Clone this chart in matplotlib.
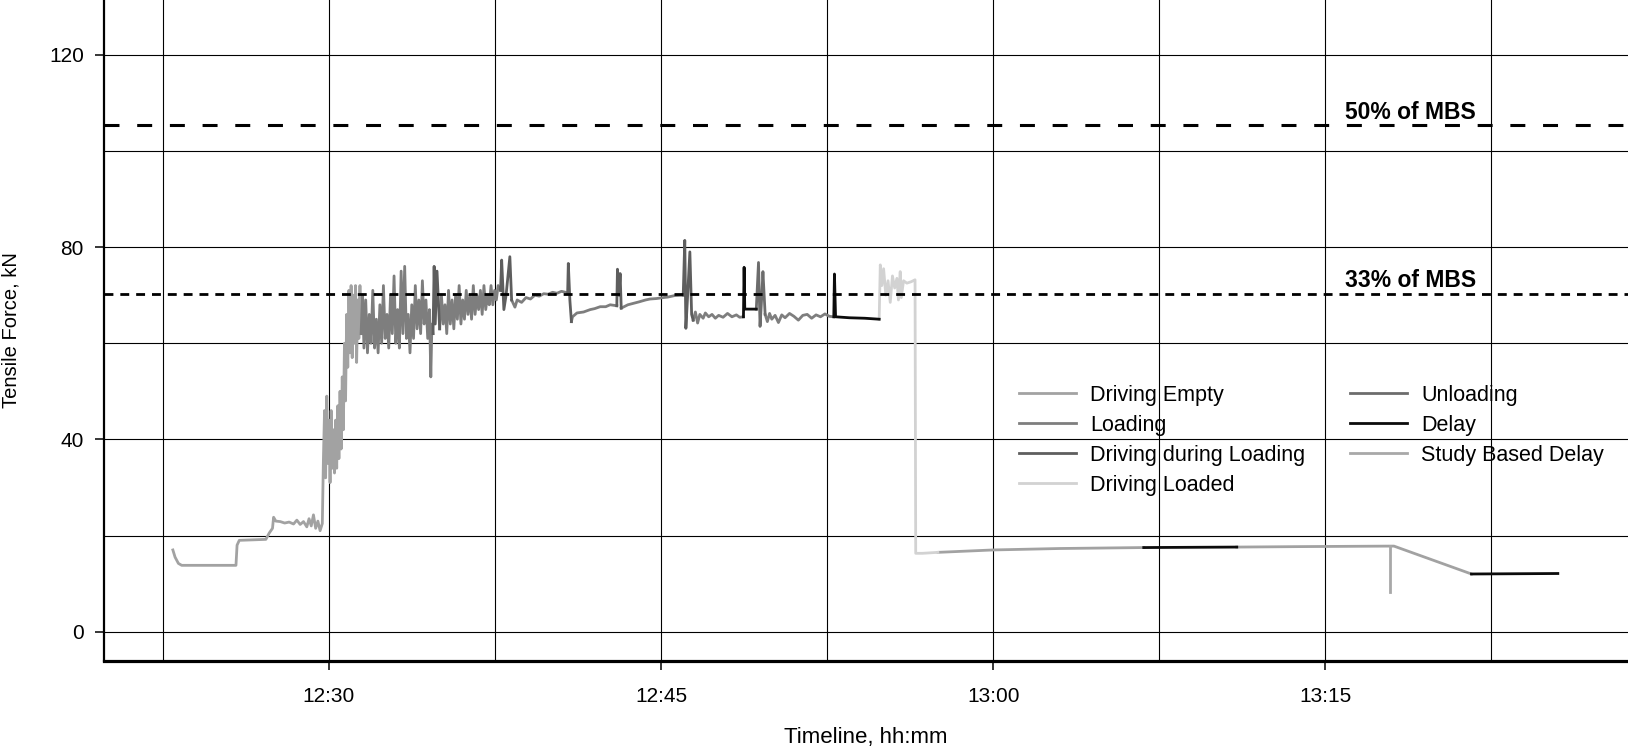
import numpy as np
import matplotlib
matplotlib.use('Agg')
import matplotlib.pyplot as plt
from matplotlib.lines import Line2D
from matplotlib.ticker import FuncFormatter, FixedLocator

nan = np.nan

# time in minutes after 12:00, force in kN; nan breaks a run of the same phase
empty_t = [22.95, 23.05, 23.2, 23.35, 25.8, 25.85, 25.95, 27.15, 27.3, 27.45, 27.5, 27.6, 27.8, 28.0,
           28.2, 28.4, 28.55, 28.7, 28.85, 29.0, 29.1, 29.2, 29.3, 29.4, 29.5, 29.6, 29.7,
           29.75, 29.8, 29.85, 29.9, 29.95, 30.0, 30.05, 30.1, 30.15, 30.2, 30.25, 30.3, 30.35, 30.4,
           30.45, 30.5, 30.55, 30.6, 30.65, 30.7, 30.75, 30.8, 30.85, 30.9, 30.95, 31.0, 31.05, 31.1,
           31.15, 31.2, 31.25, 31.3, 31.35, 31.4, 31.45,
           nan,
           57.5, 60.0, 63.0, 66.8,
           nan,
           71.0, 74.0, 77.85, 78.1, 81.6]
empty_f = [17.0, 15.5, 14.2, 13.8, 13.8, 18.0, 19.0, 19.2, 20.5, 21.5, 23.8, 23.0, 22.9, 22.6,
           22.8, 22.4, 23.2, 22.3, 22.9, 21.8, 23.5, 22.0, 24.3, 21.5, 23.0, 21.0, 22.5,
           36.0, 46.0, 32.0, 49.0, 35.0, 44.0, 31.0, 46.0, 34.0, 42.0, 33.0, 44.0, 34.0, 47.0,
           36.0, 50.0, 38.0, 53.0, 42.0, 60.0, 48.0, 66.0, 55.0, 71.0, 58.0, 72.0, 57.0, 70.0,
           60.0, 72.0, 56.0, 69.0, 61.0, 72.0, 62.0,
           nan,
           16.5, 17.0, 17.3, 17.5,
           nan,
           17.6, 17.7, 17.8, 17.8, 12.0]

loading_t = [31.45, 31.52, 31.58, 31.66, 31.74, 31.82, 31.9, 31.98, 32.06, 32.14, 32.22, 32.3, 32.38,
             32.46, 32.54, 32.62, 32.7, 32.78, 32.86, 32.94, 33.02, 33.1, 33.18, 33.26, 33.34, 33.42,
             33.5, 33.58, 33.66, 33.74, 33.82, 33.9, 33.98, 34.06, 34.14, 34.22, 34.3, 34.38, 34.46,
             34.54, 34.6, 34.65, 34.7,
             nan,
             35.0, 35.08, 35.16, 35.24, 35.32, 35.4, 35.48, 35.56, 35.64, 35.72, 35.8, 35.88, 35.96,
             36.04, 36.12, 36.2, 36.28, 36.36, 36.44, 36.52, 36.6, 36.68, 36.76, 36.84, 36.92, 37.0,
             37.08, 37.16, 37.24, 37.32, 37.4, 37.48, 37.56, 37.64, 37.75,
             nan,
             38.25, 38.4, 38.5, 38.7, 38.9, 39.1, 39.3, 39.5, 39.7, 39.9, 40.1, 40.3, 40.5, 40.78,
             nan,
             40.95, 41.0, 41.2, 41.5, 41.8, 42.0, 42.25, 42.5, 42.7, 43.0,
             nan,
             43.2, 43.5, 43.75, 44.0, 44.3, 44.5, 44.8, 45.1, 45.3, 45.6, 46.0,
             nan,
             46.45, 46.55, 46.65, 46.75, 46.9, 47.0, 47.15, 47.3, 47.45, 47.6, 47.8, 48.0, 48.2, 48.4,
             48.55, 48.72,
             nan,
             49.7, 49.8, 49.9, 50.0, 50.15, 50.3, 50.45, 50.6, 50.8, 51.0, 51.2, 51.4, 51.6, 51.8,
             52.0, 52.2, 52.4, 52.6, 52.8]
loading_f = [62, 70, 59, 69, 58, 66, 60, 71, 59, 65, 58, 68, 60,
             72, 61, 66, 59, 70, 62, 74, 60, 67, 59, 75, 62, 76,
             61, 66, 58, 68, 61, 72, 63, 69, 62, 73, 64, 69, 61,
             67, 53, 64, 62,
             nan,
             63, 70, 64, 68, 62, 71, 64, 69, 63, 70, 65, 72, 64,
             69, 65, 71, 66, 70, 65, 72, 66, 70, 67, 71, 66, 72,
             67, 70, 68, 72, 68, 71, 69, 72, 71,
             nan,
             69, 67.5, 69, 68.5, 69.5, 69.2, 70, 69.8, 70.3, 70.2, 70.6, 70.4, 70.8, 70.5,
             nan,
             64.5, 65.5, 66.3, 66.5, 67.0, 67.2, 67.6, 67.6, 68.0, 67.8,
             nan,
             67.3, 68.0, 68.3, 68.6, 69.0, 69.2, 69.3, 69.5, 69.6, 69.9, 70.0,
             nan,
             64.8, 66.5, 64.2, 66.0, 65.2, 66.3, 65.5, 66.0, 65.2, 65.8, 65.4, 66.2, 65.5, 65.9,
             65.4, 65.5,
             nan,
             66, 64.5, 66.2, 65.0, 65.8, 64.3, 65.9, 65.3, 66.2, 65.6, 64.8, 65.8, 66.0, 65.2,
             65.9, 65.5, 66.1, 65.6, 65.5]

during_t = [34.7, 34.75, 34.8, 34.88, 35.0, nan,
            37.75, 37.8, 37.9, 38.0, 38.17, 38.25, nan,
            40.78, 40.81, 40.88, 40.95, nan,
            43.0, 43.03, 43.1, 43.15, 43.2, nan,
            46.0, 46.07, 46.12, 46.2, 46.3, 46.38, 46.45]
during_f = [62, 76, 64, 75, 63, nan,
            71, 77.3, 67, 70, 78, 69, nan,
            70.5, 76.6, 69, 64.5, nan,
            67.8, 75.4, 70, 74.5, 67.3, nan,
            70, 81.4, 63.1, 70, 79, 66, 64.8]

loaded_t = [54.85, 54.9, 54.97, 55.05, 55.15, 55.25, 55.35, 55.45, 55.55, 55.65, 55.72, 55.8, 55.85,
            55.95, 56.1, 56.3, 56.47, 56.5, 56.8, 57.5]
loaded_f = [65.0, 76.3, 72, 75.5, 70, 73, 68.5, 74, 71.5, 73.5, 69, 74.9, 69.5,
            73, 72.5, 72.8, 73.2, 16.3, 16.3, 16.5]

unloading_t = [49.3, 49.4, 49.47, 49.55, 49.6, 49.7]
unloading_f = [67.1, 76.8, 63.5, 70, 74.9, 66]

delay_t = [48.72, 48.75, 48.78, 49.3, nan,
           52.8, 52.83, 52.88, 53.5, 54.2, 54.85, nan,
           66.8, 71.0, nan,
           81.6, 85.5]
delay_f = [65.5, 75.8, 67.1, 67.1, nan,
           65.5, 74.4, 65.5, 65.3, 65.2, 65.0, nan,
           17.5, 17.6, nan,
           12.0, 12.1]

study_t = [77.9, 77.9]
study_f = [17.8, 8.3]

phases = ['Driving Empty', 'Loading', 'Driving during Loading', 'Driving Loaded',
          'Unloading', 'Delay', 'Study Based Delay']
colors = ['#a2a2a2', '#7e7e7e', '#5e5e5e', '#d2d2d2', '#6c6c6c', '#0c0c0c', '#a8a8a8']
series = [(empty_t, empty_f), (loading_t, loading_f), (during_t, during_f), (loaded_t, loaded_f),
          (unloading_t, unloading_f), (delay_t, delay_f), (study_t, study_f)]

mbs_50 = 105.5
mbs_33 = 70.3

font = ['Liberation Sans', 'DejaVu Sans']
plt.rcParams['font.family'] = font

fig = plt.figure(figsize=(16.28, 7.51), dpi=100)
ax = fig.add_axes([104/1628, 1 - 661/751, 1 - 104/1628, 661/751])

for (t, f), c in zip(series, colors):
    ax.plot(t, f, color=c, lw=2.0, zorder=2)

ax.axhline(mbs_50, color='black', lw=2.2, dashes=(4.9, 5.8), zorder=3)
ax.axhline(mbs_33, color='black', lw=2.0, dashes=(3.2, 2.5), zorder=3)
ax.text(78.83, mbs_50 + 1.1, '50% of MBS', ha='center', va='baseline', fontsize=16.5,
        fontweight='bold', zorder=4)
ax.text(78.83, mbs_33 + 1.3, '33% of MBS', ha='center', va='baseline', fontsize=16.5,
        fontweight='bold', zorder=4)

ax.set_xlim(19.84, 88.67)
ax.set_ylim(-6.1, 131.4)

ax.xaxis.set_major_locator(FixedLocator([30, 45, 60, 75]))
ax.xaxis.set_minor_locator(FixedLocator([22.5, 37.5, 52.5, 67.5, 82.5]))
ax.xaxis.set_major_formatter(FuncFormatter(lambda m, p: '%d:%02d' % (12 + m // 60, m % 60)))
ax.yaxis.set_major_locator(FixedLocator([0, 40, 80, 120]))
ax.yaxis.set_minor_locator(FixedLocator([20, 60, 100]))

ax.grid(which='both', color='black', lw=0.8, zorder=1)
ax.set_axisbelow(True)
ax.tick_params(which='major', direction='out', length=6.5, width=1.1, labelsize=15)
ax.tick_params(axis='x', which='major', pad=12)
ax.tick_params(axis='y', which='major', pad=8)
ax.tick_params(which='minor', length=0)

for s in ['top', 'right']:
    ax.spines[s].set_visible(False)
ax.spines['left'].set_linewidth(1.6)
ax.spines['bottom'].set_linewidth(2.3)

ax.set_xlabel('Timeline, hh:mm', fontsize=16)
ax.xaxis.set_label_coords(0.5, -0.1)
ax.set_ylabel('Tensile Force, kN', fontsize=14.5)
ax.yaxis.set_label_coords(-0.0545, 0.5)

handles = [Line2D([], [], color=c, lw=2.0) for c in colors]
ax.legend(handles, phases, loc='upper left', bbox_to_anchor=(0.6004, 0.418), ncol=2,
          frameon=False, borderaxespad=0, borderpad=0, handlelength=2.65, handletextpad=0.65,
          columnspacing=2.1, labelspacing=0.42, prop={'size': 15.5})

plt.savefig('out.png', dpi=100)
